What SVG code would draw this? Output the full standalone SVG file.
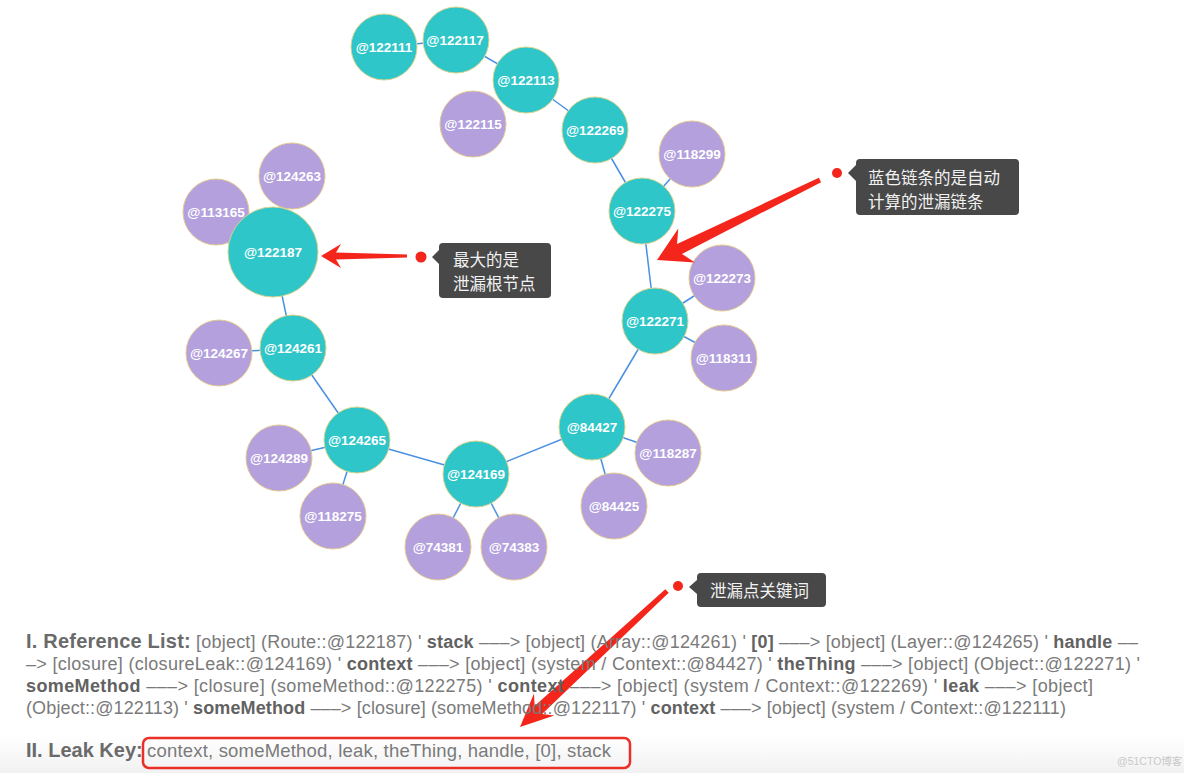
<svg xmlns="http://www.w3.org/2000/svg" width="1184" height="773" viewBox="0 0 1184 773">
<defs>
<linearGradient id="bottomShade" x1="0" y1="0" x2="0" y2="1">
<stop offset="0" stop-color="#ffffff"/>
<stop offset="1" stop-color="#f1f1f1"/>
</linearGradient>
</defs>
<style>
.link{stroke:#4a90e2;stroke-width:1.5;fill:none}
.core{fill:#2ec6c8;stroke:#d9d38f;stroke-width:1}
.leaf{fill:#b3a0dd;stroke:#e3c98f;stroke-width:1}
.lbl{font-family:"Liberation Sans",Arial,sans-serif;font-weight:bold;font-size:13.5px;fill:#ffffff;text-anchor:middle}
.tip{fill:#484848}
.tipt{font-family:"Noto Sans CJK SC","Noto Sans",sans-serif;font-size:16.5px;fill:#f2f2f2}
.red{fill:#f4261b}
.body{font-family:"Liberation Sans",Arial,sans-serif;font-size:18px;fill:#7a7a7a}
.h{font-weight:bold;font-size:20px;fill:#6a6a6a}
.b{font-weight:bold;fill:#626262}
</style>
<rect x="0" y="0" width="1184" height="773" fill="#ffffff"/>
<rect x="0" y="736" width="1184" height="37" fill="url(#bottomShade)"/>

<g id="connectors">
<line class="link" x1="384" y1="47" x2="456" y2="40"/>
<line class="link" x1="456" y1="40" x2="526" y2="80"/>
<line class="link" x1="526" y1="80" x2="595" y2="130"/>
<line class="link" x1="595" y1="130" x2="642" y2="211"/>
<line class="link" x1="642" y1="211" x2="692" y2="154"/>
<line class="link" x1="642" y1="211" x2="655" y2="321"/>
<line class="link" x1="655" y1="321" x2="722" y2="278"/>
<line class="link" x1="655" y1="321" x2="724" y2="358"/>
<line class="link" x1="655" y1="321" x2="592" y2="427"/>
<line class="link" x1="592" y1="427" x2="668" y2="453"/>
<line class="link" x1="592" y1="427" x2="614" y2="506"/>
<line class="link" x1="592" y1="427" x2="476" y2="474"/>
<line class="link" x1="476" y1="474" x2="438" y2="547"/>
<line class="link" x1="476" y1="474" x2="514" y2="547"/>
<line class="link" x1="476" y1="474" x2="357" y2="440"/>
<line class="link" x1="357" y1="440" x2="279" y2="458"/>
<line class="link" x1="357" y1="440" x2="333" y2="516"/>
<line class="link" x1="357" y1="440" x2="293" y2="348"/>
<line class="link" x1="293" y1="348" x2="219" y2="353"/>
<line class="link" x1="293" y1="348" x2="273" y2="252"/>
</g>

<g id="n122115"><circle class="leaf" cx="473" cy="124" r="33"/><text class="lbl" x="473" y="129">@122115</text></g>
<g id="n118299"><circle class="leaf" cx="692" cy="154" r="33"/><text class="lbl" x="692" y="159">@118299</text></g>
<g id="n122273"><circle class="leaf" cx="722" cy="278" r="33"/><text class="lbl" x="722" y="283">@122273</text></g>
<g id="n118311"><circle class="leaf" cx="724" cy="358" r="33"/><text class="lbl" x="724" y="363">@118311</text></g>
<g id="n118287"><circle class="leaf" cx="668" cy="453" r="33"/><text class="lbl" x="668" y="458">@118287</text></g>
<g id="n84425"><circle class="leaf" cx="614" cy="506" r="33"/><text class="lbl" x="614" y="511">@84425</text></g>
<g id="n74381"><circle class="leaf" cx="438" cy="547" r="33"/><text class="lbl" x="438" y="552">@74381</text></g>
<g id="n74383"><circle class="leaf" cx="514" cy="547" r="33"/><text class="lbl" x="514" y="552">@74383</text></g>
<g id="n124289"><circle class="leaf" cx="279" cy="458" r="33"/><text class="lbl" x="279" y="463">@124289</text></g>
<g id="n118275"><circle class="leaf" cx="333" cy="516" r="33"/><text class="lbl" x="333" y="521">@118275</text></g>
<g id="n124267"><circle class="leaf" cx="219" cy="353" r="33"/><text class="lbl" x="219" y="358">@124267</text></g>
<g id="n113165"><circle class="leaf" cx="216" cy="212" r="33"/><text class="lbl" x="216" y="217">@113165</text></g>
<g id="n124263"><circle class="leaf" cx="292" cy="176" r="33"/><text class="lbl" x="292" y="181">@124263</text></g>

<g id="n122111"><circle class="core" cx="384" cy="47" r="33"/><text class="lbl" x="384" y="52">@122111</text></g>
<g id="n122117"><circle class="core" cx="456" cy="40" r="33"/><text class="lbl" x="455" y="45">@122117</text></g>
<g id="n122113"><circle class="core" cx="526" cy="80" r="33"/><text class="lbl" x="526" y="85">@122113</text></g>
<g id="n122269"><circle class="core" cx="595" cy="130" r="33"/><text class="lbl" x="595" y="135">@122269</text></g>
<g id="n122275"><circle class="core" cx="642" cy="211" r="33"/><text class="lbl" x="642" y="216">@122275</text></g>
<g id="n122271"><circle class="core" cx="655" cy="321" r="33"/><text class="lbl" x="655" y="326">@122271</text></g>
<g id="n84427"><circle class="core" cx="592" cy="427" r="33"/><text class="lbl" x="592" y="432">@84427</text></g>
<g id="n124169"><circle class="core" cx="476" cy="474" r="33"/><text class="lbl" x="476" y="479">@124169</text></g>
<g id="n124265"><circle class="core" cx="357" cy="440" r="33"/><text class="lbl" x="357" y="445">@124265</text></g>
<g id="n124261"><circle class="core" cx="293" cy="348" r="33"/><text class="lbl" x="293" y="353">@124261</text></g>
<g id="n122187"><circle class="core" cx="273" cy="252" r="45"/><text class="lbl" x="273" y="257">@122187</text></g>

<g id="callout-root">
<path class="red" d="M321,256 L341,244 L336,252.5 L407,254.5 L407,257.5 L336,259.5 L341,268 Z"/>
<circle class="red" cx="421" cy="257" r="5.5"/>
<path class="tip" d="M443,243 H547 Q551,243 551,247 V294 Q551,298 547,298 H443 Q439,298 439,294 V264 L432,257 L439,250 V247 Q439,243 443,243 Z"/>
<text class="tipt" x="453" y="266">最大的是</text>
<text class="tipt" x="453" y="290">泄漏根节点</text>
</g>

<g id="callout-chain">
<path class="red" d="M657,260 L678.3,228.4 L677,244 L818.9,177.8 L821.1,182.2 L681.9,253.9 L695,262.5 Z"/>
<circle class="red" cx="837" cy="173" r="5"/>
<path class="tip" d="M860,159 H1015 Q1019,159 1019,163 V211 Q1019,215 1015,215 H860 Q856,215 856,211 V181 L848,173 L856,165 V163 Q856,159 860,159 Z"/>
<text class="tipt" x="868" y="184">蓝色链条的是自动</text>
<text class="tipt" x="868" y="208">计算的泄漏链条</text>
</g>

<g id="callout-key">
<path class="red" d="M520,727 L534,693.6 L534.6,706 L665.3,589.2 L668.7,592.8 L542.1,714.1 L554.4,715.6 Z"/>
<circle class="red" cx="678" cy="586" r="5"/>
<path class="tip" d="M701,573 H822 Q826,573 826,577 V603 Q826,607 822,607 H701 Q697,607 697,603 V594 L689,587 L697,580 V577 Q697,573 701,573 Z"/>
<text class="tipt" x="710" y="597" font-size="17">泄漏点关键词</text>
</g>

<g id="reference-list" class="body">
<text x="26" y="648" textLength="1112" lengthAdjust="spacing"><tspan class="h">I. Reference List:</tspan> [object] (Route::@122187) ' <tspan class="b">stack</tspan> –––&gt; [object] (Array::@124261) ' <tspan class="b">[0]</tspan> –––&gt; [object] (Layer::@124265) ' <tspan class="b">handle</tspan> ––</text>
<text x="26" y="670" textLength="1114" lengthAdjust="spacing">–&gt; [closure] (closureLeak::@124169) ' <tspan class="b">context</tspan> –––&gt; [object] (system / Context::@84427) ' <tspan class="b">theThing</tspan> –––&gt; [object] (Object::@122271) '</text>
<text x="26" y="692" textLength="1067" lengthAdjust="spacing"><tspan class="b">someMethod</tspan> –––&gt; [closure] (someMethod::@122275) ' <tspan class="b">context</tspan> –––&gt; [object] (system / Context::@122269) ' <tspan class="b">leak</tspan> –––&gt; [object]</text>
<text x="26" y="714" textLength="1040" lengthAdjust="spacing">(Object::@122113) ' <tspan class="b">someMethod</tspan> –––&gt; [closure] (someMethod::@122117) ' <tspan class="b">context</tspan> –––&gt; [object] (system / Context::@122111)</text>
</g>

<g id="leak-key" class="body">
<text x="26" y="757"><tspan class="h">II. Leak Key:</tspan></text>
<text x="147" y="757" font-size="18.5" textLength="464" lengthAdjust="spacing">context, someMethod, leak, theThing, handle, [0], stack</text>
<rect x="143" y="738" width="487" height="30" rx="6" ry="6" fill="none" stroke="#ea2f26" stroke-width="2.5"/>
</g>

<text x="1117" y="765" font-family="'Liberation Sans','Noto Sans CJK SC',sans-serif" font-size="10.5" fill="#c9c9c9">@51CTO博客</text>
</svg>
